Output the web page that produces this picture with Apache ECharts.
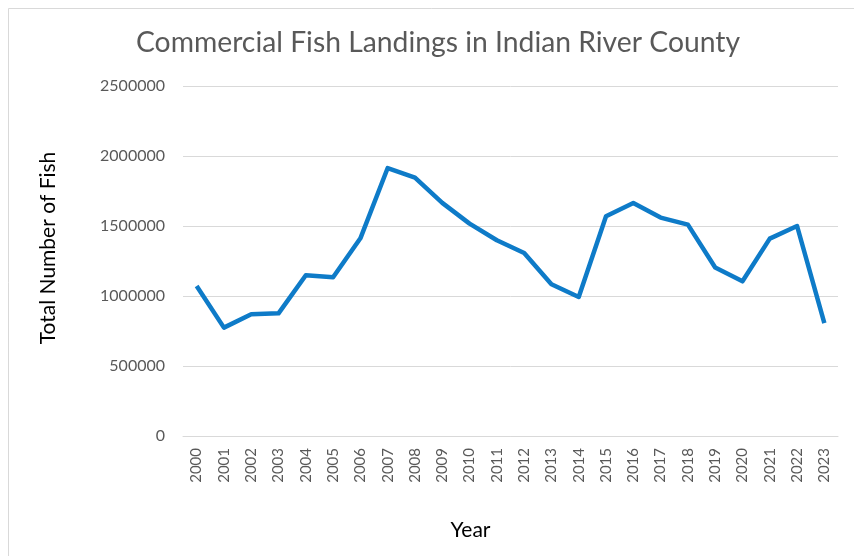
<!DOCTYPE html>
<html>
<head>
<meta charset="utf-8">
<script src="https://cdn.jsdelivr.net/npm/echarts@6/dist/echarts.min.js"></script>
<style>html,body{margin:0;padding:0;background:#fff}#c{width:854px;height:556px}</style>
</head>
<body>
<div id="c"></div>
<script>
const years = ['2000','2001','2002','2003','2004','2005','2006','2007','2008','2009','2010','2011','2012','2013','2014','2015','2016','2017','2018','2019','2020','2021','2022','2023'];
const fishTotals = [1071000, 774000, 869000, 876000, 1148000, 1134000, 1412000, 1914000, 1846000, 1665000, 1517000, 1398000, 1307000, 1084000, 993000, 1569000, 1664000, 1560000, 1510000, 1203000, 1105000, 1410000, 1500000, 807000];
const yTicks = [0, 500000, 1000000, 1500000, 2000000, 2500000];

const chart = echarts.init(document.getElementById('c'), null, {renderer: 'canvas'});
const font = 'Lato, "Open Sans", sans-serif';
chart.setOption({
  animation: false,
  backgroundColor: '#fff',
  graphic: [{
    type: 'rect', left: 6, top: 6,
    shape: {width: 860, height: 560},
    style: {fill: 'none', stroke: '#D9D9D9', lineWidth: 1}
  }],
  title: {
    text: 'Commercial Fish Landings in Indian River County',
    left: 131, top: 24,
    textStyle: {fontFamily: font, fontSize: 28.3, fontWeight: 'normal', color: '#595959'}
  },
  grid: {left: 183, right: 16, top: 86, bottom: 120},
  xAxis: {
    type: 'category', data: years, boundaryGap: true,
    name: 'Year', nameLocation: 'middle', nameGap: 84,
    nameTextStyle: {fontFamily: font, fontSize: 21, color: '#000', padding: [0, 80, 0, 0]},
    axisLine: {show: true, lineStyle: {color: '#D9D9D9', width: 1}},
    axisTick: {show: false},
    axisLabel: {rotate: 90, fontFamily: font, fontSize: 15, color: '#595959', margin: 12, interval: 0}
  },
  yAxis: {
    type: 'value', min: yTicks[0], max: yTicks[yTicks.length - 1], interval: 500000,
    name: 'Total Number of Fish', nameLocation: 'middle', nameGap: 124,
    nameTextStyle: {fontFamily: font, fontSize: 21, color: '#000', padding: [0, 0, 0, 26]},
    axisLine: {show: false}, axisTick: {show: false},
    axisLabel: {fontFamily: font, fontSize: 16, color: '#595959', margin: 18, formatter: v => String(v)},
    splitLine: {lineStyle: {color: '#D9D9D9', width: 1}}
  },
  series: [{
    type: 'line', data: fishTotals, symbol: 'none',
    lineStyle: {color: '#0E7BC8', width: 4.5, join: 'round'}
  }]
});
</script>
</body>
</html>
